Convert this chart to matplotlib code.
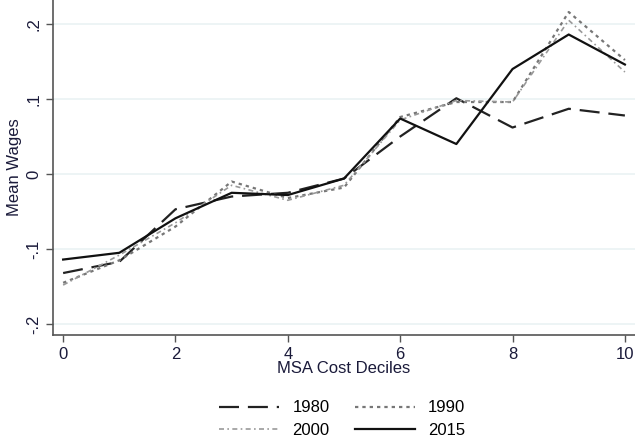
import numpy as np
import matplotlib
matplotlib.use("Agg")
import matplotlib.pyplot as plt

deciles = list(range(11))
w1980 = [-0.132, -0.117, -0.047, -0.030, -0.025, -0.006, 0.050, 0.101, 0.062, 0.087, 0.078]
w1990 = [-0.145, -0.115, -0.070, -0.010, -0.032, -0.018, 0.076, 0.096, 0.096, 0.216, 0.152]
w2000 = [-0.148, -0.108, -0.065, -0.015, -0.035, -0.015, 0.072, 0.098, 0.096, 0.205, 0.136]
w2015 = [-0.114, -0.105, -0.059, -0.025, -0.028, -0.006, 0.074, 0.040, 0.140, 0.186, 0.146]

xticks = [0, 2, 4, 6, 8, 10]
yticks = [-0.2, -0.1, 0, 0.1, 0.2]
ylabels = ["-.2", "-.1", "0", ".1", ".2"]

plt.rcParams['font.family'] = ['Liberation Sans', 'DejaVu Sans']

fig = plt.figure(figsize=(6.35, 4.45), dpi=100)
ax = fig.add_axes([0.0835, 0.247, 0.9165, 0.753])

l80, = ax.plot(deciles, w1980, color='#222222', lw=1.6, dashes=(9, 4), label='1980')
l90, = ax.plot(deciles, w1990, color='#777777', lw=1.6, dashes=(1.5, 1.8), label='1990')
l00, = ax.plot(deciles, w2000, color='#999999', lw=1.2, dashes=(3, 2, 1, 2), label='2000')
l15, = ax.plot(deciles, w2015, color='#111111', lw=1.6, label='2015')

ax.set_xlim(-0.18, 10.18)
ax.set_ylim(-0.2147, 0.232)
ax.set_xticks(xticks)
ax.set_yticks(yticks)
ax.set_yticklabels(ylabels, rotation=90, va='center')
ax.tick_params(axis='both', labelsize=12, colors='#555555', labelcolor='#1a1a3a', length=5, width=1)
ax.grid(axis='y', color='#eaf2f3', lw=1.2)
ax.set_axisbelow(True)

for s in ['top', 'right']:
    ax.spines[s].set_visible(False)
for s in ['left', 'bottom']:
    ax.spines[s].set_color('#555555')
    ax.spines[s].set_linewidth(1.2)

ax.set_xlabel('MSA Cost Deciles', fontsize=12, color='#1a1a3a', labelpad=-1)
ax.set_ylabel('Mean Wages', fontsize=12, color='#1a1a3a', labelpad=3)

# legend filled row by row: 1980, 1990 / 2000, 2015
fig.legend([l80, l00, l90, l15], ['1980', '2000', '1990', '2015'],
           loc='center', bbox_to_anchor=(0.539, 0.058), ncol=2, frameon=False,
           fontsize=12, handlelength=3.6, handletextpad=0.8, columnspacing=1.5,
           labelspacing=0.45)

fig.savefig('out.png', dpi=100)
